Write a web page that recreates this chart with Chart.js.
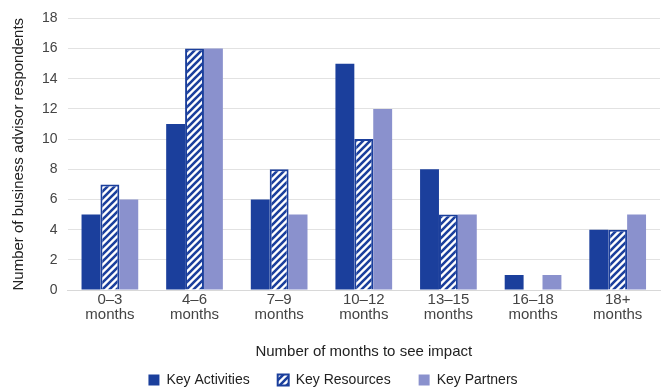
<!DOCTYPE html>
<html>
<head>
<meta charset="utf-8">
<script src="https://cdn.jsdelivr.net/npm/chart.js@4"></script>
<style>
  html, body { margin: 0; padding: 0; background: #fff; }
  #wrap { width: 662px; height: 388px; }
</style>
</head>
<body>
<div id="wrap"><canvas id="chart"></canvas></div>
<script>
const categories = [
  ['0–3', 'months'], ['4–6', 'months'], ['7–9', 'months'], ['10–12', 'months'],
  ['13–15', 'months'], ['16–18', 'months'], ['18+', 'months'],
];
const keyActivities = [5, 11, 6, 15, 8, 1, 4];
const keyResources = [7, 16, 8, 10, 5, 0, 4];
const keyPartners = [6, 16, 5, 12, 5, 1, 5];

const DARK = '#1b3f9c';
const LIGHT = '#8a91cd';
const FONT = 'Liberation Sans, Arial, sans-serif';

// diagonal hatch for Key Resources
function makeHatch() {
  const size = 7;
  const c = document.createElement('canvas');
  c.width = size; c.height = size;
  const g = c.getContext('2d');
  g.fillStyle = '#fff';
  g.fillRect(0, 0, size, size);
  g.strokeStyle = DARK;
  g.lineWidth = 2.6;
  g.beginPath();
  g.moveTo(-size, size * 2); g.lineTo(size * 2, -size);
  g.moveTo(-size, size); g.lineTo(size, -size);
  g.moveTo(0, size * 2); g.lineTo(size * 2, 0);
  g.stroke();
  return g.createPattern(c, 'repeat');
}

const ctx = document.getElementById('chart').getContext('2d');
const hatch = makeHatch();

new Chart(ctx, {
  type: 'bar',
  data: {
    labels: categories,
    datasets: [
      { label: 'Key Activities', data: keyActivities, backgroundColor: DARK, borderWidth: 0 },
      { label: 'Key Resources', data: keyResources, backgroundColor: hatch, borderColor: DARK, borderWidth: 2 },
      { label: 'Key Partners', data: keyPartners, backgroundColor: LIGHT, borderWidth: 0 },
    ],
  },
  options: {
    responsive: true,
    maintainAspectRatio: false,
    animation: false,
    categoryPercentage: 0.67,
    barPercentage: 1.0,
    layout: { padding: { left: 6, right: 2, top: 3, bottom: -9 } },
    plugins: {
      tooltip: { enabled: false },
      legend: {
        position: 'bottom',
        labels: {
          boxWidth: 11,
          boxHeight: 11,
          padding: 28,
          color: '#222',
          font: { family: FONT, size: 14 },
        },
      },
    },
    scales: {
      y: {
        min: 0,
        max: 18,
        ticks: { stepSize: 2, color: '#444', padding: 10, font: { family: FONT, size: 14 } },
        grid: { color: '#e2e2e2', drawTicks: false },
        border: { display: false },
        title: {
          display: true,
          text: 'Number of business advisor respondents',
          color: '#222',
          font: { family: FONT, size: 15 },
          padding: { bottom: 4 },
        },
      },
      x: {
        ticks: { color: '#444', padding: 2, font: { family: FONT, size: 15, lineHeight: 1.0 } },
        grid: { display: false, drawTicks: false },
        border: { color: '#d8d8d8' },
        title: {
          display: true,
          text: 'Number of months to see impact',
          color: '#222',
          font: { family: FONT, size: 15 },
          padding: { top: 19, bottom: -16 },
        },
      },
    },
  },
});
</script>
</body>
</html>
